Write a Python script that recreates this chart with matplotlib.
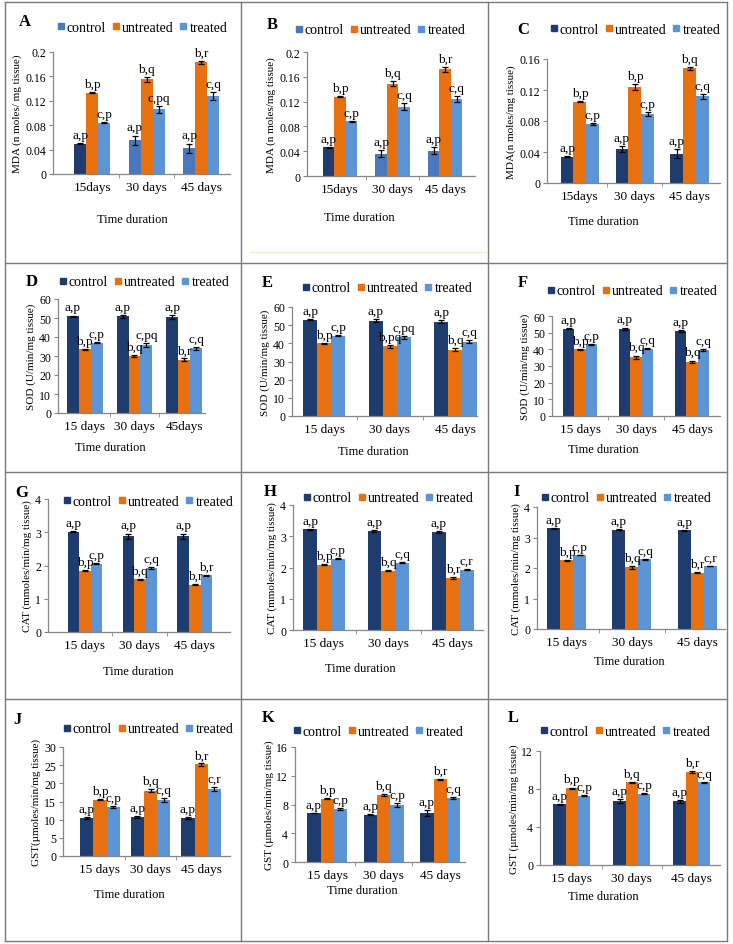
import numpy as np
import matplotlib
matplotlib.use('Agg')
import matplotlib.pyplot as plt
from matplotlib.lines import Line2D
from matplotlib.ticker import FuncFormatter, MultipleLocator

plt.rcParams['font.family'] = ['Liberation Serif', 'DejaVu Serif']

W, H = 733, 945

series_names = ['control', 'untreated', 'treated']
days_a = ['15days', '30 days', '45 days']
days_d = ['15 days', '30 days', '45days']
days_s = ['15 days', '30 days', '45 days']

# ---------------- data ----------------
A_control = [0.050, 0.055, 0.042]
A_untreated = [0.133, 0.155, 0.183]
A_treated = [0.084, 0.106, 0.128]
A_control_err = [0.0005, 0.008, 0.008]
A_untreated_err = [0.0008, 0.004, 0.003]
A_treated_err = [0.0008, 0.006, 0.007]
A_letters = [['a,p', 'b,p', 'c,p'], ['a,p', 'b,q', 'c,pq'], ['a,p', 'b,r', 'c,q']]

B_control = [0.046, 0.036, 0.041]
B_untreated = [0.128, 0.149, 0.172]
B_treated = [0.088, 0.112, 0.124]
B_control_err = [0.0005, 0.006, 0.006]
B_untreated_err = [0.0008, 0.004, 0.004]
B_treated_err = [0.0008, 0.005, 0.005]
B_letters = [['a,p', 'b,p', 'c,p'], ['a,p', 'b,q', 'c,q'], ['a,p', 'b,r', 'c,q']]

C_control = [0.034, 0.044, 0.038]
C_untreated = [0.105, 0.124, 0.148]
C_treated = [0.076, 0.089, 0.112]
C_control_err = [0.0005, 0.004, 0.006]
C_untreated_err = [0.0008, 0.004, 0.002]
C_treated_err = [0.0008, 0.003, 0.003]
C_letters = [['a,p', 'b,p', 'c,p'], ['a,p', 'b,p', 'c,p'], ['a,p', 'b,q', 'c,q']]

D_control = [51.0, 50.8, 50.5]
D_untreated = [33.5, 30.0, 28.0]
D_treated = [37.0, 35.8, 34.0]
D_control_err = [0.3, 0.7, 1.2]
D_untreated_err = [0.3, 0.5, 0.7]
D_treated_err = [0.3, 1.0, 0.8]
D_letters = [['a,p', 'b,p', 'c,p'], ['a,p', 'b,q', 'c,pq'], ['a,p', 'b,r', 'c,q']]

E_control = [53.0, 52.5, 52.0]
E_untreated = [40.0, 38.5, 36.5]
E_treated = [44.2, 43.3, 40.8]
E_control_err = [0.3, 1.0, 0.8]
E_untreated_err = [0.3, 0.8, 0.8]
E_treated_err = [0.3, 0.8, 0.8]
E_letters = [['a,p', 'b,p', 'c,p'], ['a,p', 'b,pq', 'c,pq'], ['a,p', 'b,q', 'c,q']]

F_control = [52.5, 52.5, 51.0]
F_untreated = [40.0, 35.3, 32.5]
F_treated = [43.0, 40.5, 39.5]
F_control_err = [0.3, 0.6, 0.6]
F_untreated_err = [0.4, 1.0, 0.8]
F_treated_err = [0.3, 0.5, 0.5]
F_letters = [['a,p', 'b,p', 'c,p'], ['a,p', 'b,q', 'c,q'], ['a,p', 'b,q', 'c,q']]

G_control = [3.02, 2.88, 2.88]
G_untreated = [1.84, 1.58, 1.42]
G_treated = [2.06, 1.92, 1.70]
G_control_err = [0.01, 0.08, 0.08]
G_untreated_err = [0.02, 0.02, 0.02]
G_treated_err = [0.01, 0.02, 0.02]
G_letters = [['a,p', 'b,p', 'c,p'], ['a,p', 'b,q', 'c,q'], ['a,p', 'b,r', 'b,r']]

H_control = [3.22, 3.17, 3.13]
H_untreated = [2.09, 1.90, 1.67]
H_treated = [2.28, 2.16, 1.93]
H_control_err = [0.01, 0.03, 0.04]
H_untreated_err = [0.02, 0.02, 0.03]
H_treated_err = [0.01, 0.02, 0.02]
H_letters = [['a,p', 'b,p', 'c,p'], ['a,p', 'b,q', 'c,q'], ['a,p', 'b,r', 'c,r']]

I_control = [3.30, 3.26, 3.23]
I_untreated = [2.25, 2.02, 1.84]
I_treated = [2.42, 2.28, 2.07]
I_control_err = [0.01, 0.02, 0.01]
I_untreated_err = [0.02, 0.04, 0.02]
I_treated_err = [0.01, 0.02, 0.01]
I_letters = [['a,p', 'b,p', 'c,p'], ['a,p', 'b,q', 'c,q'], ['a,p', 'b,r', 'c,r']]

J_control = [10.5, 10.8, 10.5]
J_untreated = [15.5, 18.0, 25.2]
J_treated = [13.5, 15.5, 18.5]
J_control_err = [0.2, 0.3, 0.2]
J_untreated_err = [0.2, 0.4, 0.3]
J_treated_err = [0.2, 0.5, 0.5]
J_letters = [['a,p', 'b,p', 'c,p'], ['a,p', 'b,q', 'c,q'], ['a,p', 'b,r', 'c,r']]

K_control = [6.8, 6.6, 6.8]
K_untreated = [8.8, 9.3, 11.5]
K_treated = [7.4, 7.9, 8.9]
K_control_err = [0.05, 0.1, 0.4]
K_untreated_err = [0.1, 0.1, 0.1]
K_treated_err = [0.1, 0.3, 0.15]
K_letters = [['a,p', 'b,p', 'c,p'], ['a,p', 'b,q', 'c,p'], ['a,p', 'b,r', 'c,q']]

L_control = [6.4, 6.7, 6.7]
L_untreated = [8.1, 8.7, 9.8]
L_treated = [7.3, 7.5, 8.7]
L_control_err = [0.05, 0.2, 0.15]
L_untreated_err = [0.05, 0.05, 0.1]
L_treated_err = [0.05, 0.05, 0.05]
L_letters = [['a,p', 'b,p', 'c,p'], ['a,p', 'b,q', 'c,p'], ['a,p', 'b,r', 'c,q']]

# ---------------- styling ----------------
NAVY = '#1F3C6E'
MID = '#4A78BE'
ORANGE = '#E8700F'
LIGHT = '#5B95D6'

panels = [
    ('A', [A_control, A_untreated, A_treated], [A_control_err, A_untreated_err, A_treated_err], A_letters,
     'MDA (n moles/ mg tissue)', days_a, 0.2, 0.04, [NAVY, MID, MID], MID),
    ('B', [B_control, B_untreated, B_treated], [B_control_err, B_untreated_err, B_treated_err], B_letters,
     'MDA (n moles/mg tissue)', days_a, 0.2, 0.04, [NAVY, MID, MID], MID),
    ('C', [C_control, C_untreated, C_treated], [C_control_err, C_untreated_err, C_treated_err], C_letters,
     'MDA(n moles/mg tissue)', days_a, 0.16, 0.04, [NAVY] * 3, NAVY),
    ('D', [D_control, D_untreated, D_treated], [D_control_err, D_untreated_err, D_treated_err], D_letters,
     'SOD (U/min/mg tissue)', days_d, 60, 10, [NAVY] * 3, NAVY),
    ('E', [E_control, E_untreated, E_treated], [E_control_err, E_untreated_err, E_treated_err], E_letters,
     'SOD (U/min/mg tissue)', days_s, 60, 10, [NAVY] * 3, NAVY),
    ('F', [F_control, F_untreated, F_treated], [F_control_err, F_untreated_err, F_treated_err], F_letters,
     'SOD (U/min/mg tissue)', days_s, 60, 10, [NAVY] * 3, NAVY),
    ('G', [G_control, G_untreated, G_treated], [G_control_err, G_untreated_err, G_treated_err], G_letters,
     'CAT (mmoles/min/mg tissue)', days_s, 4, 1, [NAVY] * 3, NAVY),
    ('H', [H_control, H_untreated, H_treated], [H_control_err, H_untreated_err, H_treated_err], H_letters,
     'CAT (mmoles/min/mg tissue)', days_s, 4, 1, [NAVY] * 3, NAVY),
    ('I', [I_control, I_untreated, I_treated], [I_control_err, I_untreated_err, I_treated_err], I_letters,
     'CAT (mmoles/min/mg tissue)', days_s, 4, 1, [NAVY] * 3, NAVY),
    ('J', [J_control, J_untreated, J_treated], [J_control_err, J_untreated_err, J_treated_err], J_letters,
     'GST(\u00b5moles/min/mg tissue)', days_s, 30, 5, [NAVY] * 3, NAVY),
    ('K', [K_control, K_untreated, K_treated], [K_control_err, K_untreated_err, K_treated_err], K_letters,
     'GST (\u00b5moles/min/mg tissue)', days_s, 16, 4, [NAVY] * 3, NAVY),
    ('L', [L_control, L_untreated, L_treated], [L_control_err, L_untreated_err, L_treated_err], L_letters,
     'GST (\u00b5moles/min/mg tissue)', days_s, 12, 4, [NAVY] * 3, NAVY),
]

# layout in pixels: axes (left, bottom, right, top), xlim, bar width, legend centre, letter pos, xlabel pos
layout = {
    'A': ((53, 175, 230, 53), (-0.72, 2.53), 0.22, (142, 28), (25, 22), (132, 220)),
    'B': ((307, 177, 475, 53), (-0.63, 2.57), 0.22, (380, 31), (272, 25), (359, 218)),
    'C': ((547, 184, 720, 60), (-0.60, 2.55), 0.235, (635, 30), (523, 30), (603, 222)),
    'D': ((58, 414, 205, 300), (-0.54, 2.42), 0.24, (144, 283), (32, 282), (110, 448)),
    'E': ((292, 417, 477, 308), (-0.49, 2.33), 0.215, (387, 289), (267, 283), (373, 452)),
    'F': ((552, 417, 720, 317), (-0.50, 2.50), 0.20, (632, 292), (523, 283), (603, 450)),
    'G': ((48, 633, 230, 500), (-0.67, 2.64), 0.21, (148, 502), (22, 493), (138, 672)),
    'H': ((293, 631, 483, 506), (-0.48, 2.47), 0.215, (388, 499), (270, 492), (360, 669)),
    'I': ((537, 630, 725, 508), (-0.46, 2.43), 0.20, (626, 499), (517, 492), (629, 662)),
    'J': ((63, 857, 230, 748), (-0.73, 2.57), 0.26, (148, 730), (17, 720), (129, 895)),
    'K': ((295, 863, 465, 748), (-0.57, 2.44), 0.235, (378, 732), (268, 718), (362, 891)),
    'L': ((540, 866, 720, 752), (-0.53, 2.47), 0.205, (625, 732), (513, 718), (603, 897)),
}

FS_Y = 8.5      # y tick labels
FS_YL = 8       # y axis label
FS_X = 9.5      # x tick labels
FS_ANN = 9.5    # letters above bars
fig = plt.figure(figsize=(W / 100, H / 100), dpi=100)
fig.patch.set_facecolor('white')

fmt = FuncFormatter(lambda v, p: ('%g' % round(v, 6)))

for name, vals, errs, letters, ylabel, ticks, ymax, ystep, ccols, legc in panels:
    (l, b, r, t), xlim, w, legpos, letpos, xlpos = layout[name]
    ax = fig.add_axes([l / W, 1 - b / H, (r - l) / W, (b - t) / H])
    x = np.arange(3)
    colours = [ccols, [ORANGE] * 3, [LIGHT] * 3]
    for j in range(3):
        pos = x + (j - 1) * w
        ax.bar(pos, vals[j], w, color=colours[j], yerr=errs[j], capsize=2,
               error_kw=dict(elinewidth=0.9, capthick=0.9, ecolor='black'), zorder=2)
        for k in range(3):
            ax.annotate(letters[k][j], (pos[k], vals[j][k] + errs[j][k]), xytext=(0, 1.5),
                        textcoords='offset points', ha='center', va='bottom', fontsize=FS_ANN)
    ax.set_xlim(*xlim)
    ax.set_ylim(0, ymax)
    ax.yaxis.set_major_locator(MultipleLocator(ystep))
    ax.yaxis.set_major_formatter(fmt)
    ax.set_xticks(x)
    ax.set_xticklabels(ticks, fontsize=FS_X)
    ax.set_xticks([0.5, 1.5], minor=True)
    ax.tick_params(axis='x', which='major', length=0, pad=5)
    ax.tick_params(axis='x', which='minor', length=3, color='#868686', direction='out')
    ax.tick_params(axis='y', length=3, color='#868686', labelsize=FS_Y, pad=2)
    for s in ('top', 'right'):
        ax.spines[s].set_visible(False)
    for s in ('left', 'bottom'):
        ax.spines[s].set_color('#868686')
        ax.spines[s].set_linewidth(0.9)
    ax.set_ylabel(ylabel, fontsize=FS_YL, labelpad=2)
    ax.set_facecolor('none')

    handles = [Line2D([], [], marker='s', linestyle='', color=c, markersize=5)
               for c in (legc, ORANGE, LIGHT)]
    fig.legend(handles, series_names, loc='center', bbox_to_anchor=(legpos[0] / W, 1 - legpos[1] / H),
               ncol=3, frameon=False, handletextpad=0.15, columnspacing=0.4, handlelength=0.6,
               fontsize=10, borderpad=0, borderaxespad=0)
    fig.text(letpos[0] / W, 1 - letpos[1] / H, name, fontsize=12, fontweight='bold',
             ha='center', va='center')
    fig.text(xlpos[0] / W, 1 - xlpos[1] / H, 'Time duration', fontsize=9,
             ha='center', va='center')

# panel frame lines
for xv in (5, 241, 488, 727):
    fig.add_artist(Line2D([xv / W, xv / W], [1 - 3 / H, 1 - 942 / H], transform=fig.transFigure,
                          color='#7a7a7a', linewidth=1.0))
for yv in (3, 264, 473, 700, 942):
    fig.add_artist(Line2D([5 / W, 727 / W], [1 - yv / H, 1 - yv / H], transform=fig.transFigure,
                          color='#7a7a7a', linewidth=1.0))
fig.add_artist(Line2D([250 / W, 485 / W], [1 - 253 / H, 1 - 253 / H], transform=fig.transFigure,
                      color='#f2ecc4', linewidth=1.0))

fig.savefig('out.png', dpi=100, facecolor='white')
